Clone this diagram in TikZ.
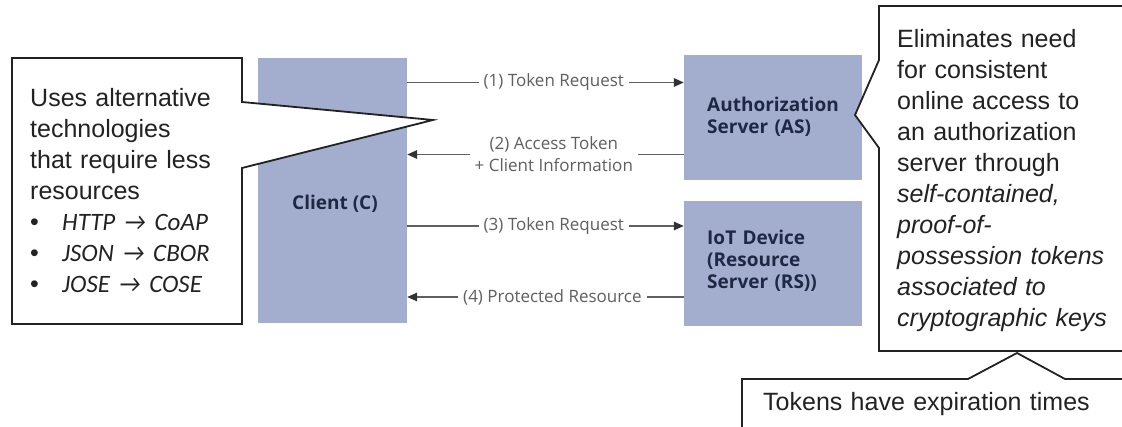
\documentclass[tikz,border=0pt]{standalone}
\usepackage{fontspec}
\usepackage{tikz}
\usetikzlibrary{arrows.meta}
\setmainfont{Liberation Sans}
\newfontfamily\diagfont{Open Sans}
\newfontfamily\techfont{Carlito}
\definecolor{serverblue}{RGB}{163,174,206}
\definecolor{servertext}{RGB}{30,40,70}
\definecolor{msggrey}{RGB}{95,95,95}
\definecolor{tipgrey}{RGB}{50,50,50}
\definecolor{noteink}{RGB}{34,34,34}
\newcommand{\techitem}[1]{\makebox[32pt][l]{\textbullet}{\techfont\itshape #1}}

\begin{document}
\begin{tikzpicture}[x=1pt,y=-1pt,
  server/.style={fill=serverblue,inner sep=0pt},
  serverlabel/.style={font=\diagfont\bfseries\fontsize{19}{22}\selectfont,text=servertext,align=left,inner sep=0pt},
  msg/.style={draw=msggrey,line width=1.5pt},
  msgtip/.style={-{Triangle[length=10pt,width=8.5pt,color=tipgrey]}},
  msglabel/.style={fill=white,text=msggrey,font=\diagfont\fontsize{17}{22}\selectfont,align=center,inner xsep=5pt,inner ysep=1pt},
  calloutbox/.style={draw=noteink,line width=1.8pt,fill=white,line join=miter},
  callouttext/.style={font=\fontsize{25}{31}\selectfont,text=noteink,align=left,inner sep=0pt,anchor=base west}]
\useasboundingbox (0,0) rectangle (1122,427);
\clip (0,0) rectangle (1122,427);

\node[server,minimum width=149pt,minimum height=265pt] (client) at (332.5,190.5) {};
\node[server,minimum width=178pt,minimum height=125pt] (as) at (773,117.5) {};
\node[server,minimum width=178pt,minimum height=125pt] (rs) at (773,263.5) {};

\node[serverlabel,anchor=base] (clientlbl) at (335,210) {Client (C)};
\node[serverlabel,anchor=base west,text width=150pt] (aslbl) at (707,112) {Authorization\\Server (AS)};
\node[serverlabel,anchor=base west,text width=150pt] (rslbl) at (707,245) {IoT Device\\(Resource\\Server (RS))};

\coordinate (req1) at ([yshift=35pt]as.west);
\coordinate (tok2) at ([yshift=-37pt]as.west);
\coordinate (req3) at ([yshift=37.5pt]rs.west);
\coordinate (res4) at ([yshift=-33.5pt]rs.west);

\draw[msg,msgtip] (client.east |- req1) -- node[msglabel,pos=0.53] {(1) Token Request} (req1);
\draw[msg,msgtip] (tok2) -- node[msglabel,pos=0.47] {(2) Access Token\\+ Client Information} (client.east |- tok2);
\draw[msg,msgtip] (client.east |- req3) -- node[msglabel,pos=0.53] {(3) Token Request} (req3);
\draw[msg,msgtip] (res4) -- node[msglabel,pos=0.475] {(4) Protected Resource} (client.east |- res4);

\draw[calloutbox] (12,58) -- (242,58) -- (242,102) -- (433,120) -- (242,168) -- (242,324) -- (12,324) -- cycle;
\node[callouttext,text width=215pt] (uses) at (30,107) {Uses alternative\\technologies\\that require less\\resources\\
  \techitem{HTTP → CoAP}\\\techitem{JSON → CBOR}\\\techitem{JOSE → COSE}};

\draw[calloutbox] (1140,6) -- (879,6) -- (879,60) -- (855,115) -- (879,148) -- (879,351) -- (1140,351) -- cycle;
\node[callouttext,text width=240pt] (selfcont) at (897,48) {Eliminates need\\for consistent\\online access to\\an authorization\\server through\\
  \textit{self-contained,}\\\textit{proof-of-}\\\textit{possession tokens}\\\textit{associated to}\\\textit{cryptographic keys}};

\draw[calloutbox] (1140,379) -- (1065,379) -- (1017,353) -- (968,379) -- (742,379) -- (742,440) -- (1140,440) -- cycle;
\node[callouttext,text width=360pt] (expiry) at (763,411) {Tokens have expiration times};
\end{tikzpicture}
\end{document}
